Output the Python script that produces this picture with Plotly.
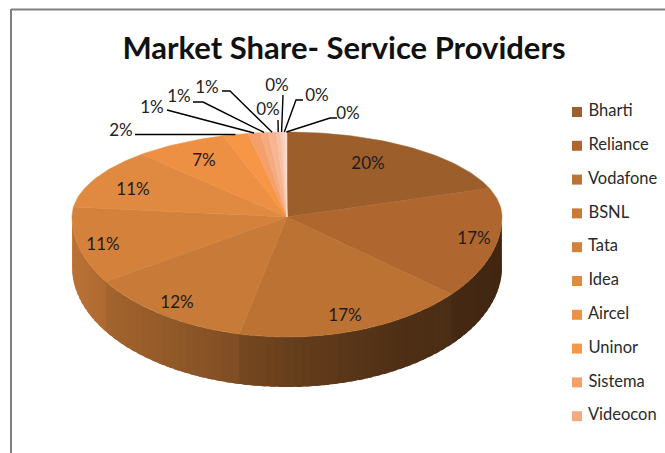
import numpy as np
import plotly.graph_objects as go

# --- data -----------------------------------------------------------------
legend_names = ["Bharti", "Reliance", "Vodafone", "BSNL", "Tata",
                "Idea", "Aircel", "Uninor", "Sistema", "Videocon"]
shares = [19.5, 16.6, 17.4, 12.4, 10.9, 11.3, 7.0, 1.9, 0.9, 0.6, 0.6, 0.3, 0.2, 0.2, 0.1]
slice_colors = ["#9C5E2B", "#AF672F", "#BC7233", "#C87A38", "#D4813C",
                "#E08A41", "#EE9044", "#F79646", "#F3A06A", "#F5AB80",
                "#F6B593", "#F7BFA3", "#F8C9B3", "#F9D3C2", "#FADDD1"]
title_text = "Market Share- Service Providers"

# --- layout geometry ------------------------------------------------------
W, H = 665, 453
CX, CY, RX, RY_BACK, RY_FRONT, DEPTH = 287, 217, 215, 85, 120, 50
FONT = "Lato"
INK = "#1c1c1c"
# inside labels for the first seven slices
inside_pos = [(368, 165), (474, 240), (345, 317), (177, 304), (103, 246), (133, 191), (204, 162)]
# outside labels: text position, elbow position, for the remaining slices
outside_pos = [(121, 132), (152, 109), (179, 98), (207, 89), (268, 111), (277, 87), (317, 97), (348, 115)]
elbows = [(135, 134.5), (172, 111), (203, 102), (230, 91), (278, 120), (283, 95), (296, 100), (330, 118)]
line_ends = [None, (167, 110), (193, 102), (222, 91), None, None, (303, 100), (337, 118)]
legend_x, legend_y0, legend_dy = 577, 112, 33.8


def rim(deg, dy=0.0):
    """Point on the perspective ellipse; 0 deg is at the top, clockwise."""
    t = np.radians(deg)
    s, c = np.sin(t), np.cos(t)
    ry = np.where(c >= 0, RY_BACK, RY_FRONT)
    return CX + RX * s, CY - ry * c + dy


def shade(x):
    return np.interp(x, [72, 100, 233, 300, 400, 502], [.88, .83, .64, .53, .42, .37])


def scaled(hex_color, f):
    r, g, b = (int(hex_color[i:i + 2], 16) for i in (1, 3, 5))
    return f"rgb({r * f:.0f},{g * f:.0f},{b * f:.0f})"


values = np.array(shares, float)
edges = np.concatenate([[0], np.cumsum(values) / values.sum() * 360])
mids = (edges[:-1] + edges[1:]) / 2
fig = go.Figure()

# side wall, front half only; painted right to left, each strip overlapping the next
for i, col in enumerate(slice_colors):
    a0, a1 = max(edges[i], 90), min(edges[i + 1], 270)
    if a1 <= a0:
        continue
    steps = np.linspace(a0, a1, max(2, int((a1 - a0) / 2.5) + 2))
    for s0, s1 in zip(steps[:-1], steps[1:]):
        arc = np.linspace(s0, min(s1 + 1.5, 270), 5)
        xt, yt = rim(arc)
        xb, yb = rim(arc[::-1], DEPTH)
        c = scaled(col, float(shade(rim((s0 + s1) / 2)[0])))
        fig.add_trace(go.Scatter(
            x=np.r_[xt, xb, xt[0]], y=np.r_[yt, yb, yt[0]], mode="lines",
            fill="toself", fillcolor=c, line=dict(width=0),
            hoverinfo="skip", showlegend=False))

# top face
for i, col in enumerate(slice_colors):
    arc = np.linspace(edges[i], edges[i + 1], max(3, int(values[i] * 3)))
    xa, ya = rim(arc)
    fig.add_trace(go.Scatter(
        x=np.r_[CX, xa, CX], y=np.r_[CY, ya, CY], mode="lines",
        fill="toself", fillcolor=col, line=dict(color=col, width=0.5),
        name=legend_names[i] if i < len(legend_names) else f"Other {i - 9}",
        text=f"{values[i]:.0f}%", hoverinfo="name+text", showlegend=False))

# inside labels
n_in = len(inside_pos)
fig.add_trace(go.Scatter(
    x=[p[0] for p in inside_pos], y=[p[1] for p in inside_pos], mode="text",
    text=[f"{v:.0f}%" for v in values[:n_in]],
    textfont=dict(family=FONT, size=17, color=INK), hoverinfo="skip", showlegend=False))

# leader lines and outside labels
for j, i in enumerate(range(n_in, len(values))):
    x0, y0 = rim(mids[i])
    pts = [(float(x0), float(y0)), elbows[j]]
    if line_ends[j]:
        pts.append(line_ends[j])
    fig.add_trace(go.Scatter(
        x=[p[0] for p in pts], y=[p[1] for p in pts], mode="lines",
        line=dict(color="#000000", width=1.4), hoverinfo="skip", showlegend=False))
fig.add_trace(go.Scatter(
    x=[p[0] for p in outside_pos], y=[p[1] for p in outside_pos], mode="text",
    text=[f"{v:.0f}%" for v in values[n_in:]],
    textfont=dict(family=FONT, size=17, color="#222222"), hoverinfo="skip", showlegend=False))

# legend (first ten categories, as in the original)
fig.add_trace(go.Scatter(
    x=[legend_x] * len(legend_names),
    y=[legend_y0 + k * legend_dy for k in range(len(legend_names))],
    mode="markers+text", text=[" " + n for n in legend_names], textposition="middle right",
    marker=dict(symbol="square", size=10, color=slice_colors[:len(legend_names)]),
    textfont=dict(family=FONT, size=16.5, color="#2a2a2a"), hoverinfo="skip", showlegend=False,
    cliponaxis=False))

fig.update_layout(
    width=W, height=H, margin=dict(l=0, r=0, t=0, b=0),
    paper_bgcolor="white", plot_bgcolor="white", showlegend=False,
    title=dict(text=f"<b>{title_text}</b>", x=344 / W, y=1 - 48 / H, xanchor="center", yanchor="middle",
               font=dict(family=FONT, size=31, color="#111111")),
    xaxis=dict(range=[0, W], visible=False, fixedrange=True),
    yaxis=dict(range=[H, 0], visible=False, fixedrange=True),
    shapes=[
        dict(type="line", xref="x", yref="y", x0=11, x1=W, y0=9.5, y1=9.5, line=dict(color="#808080", width=2)),
        dict(type="line", xref="x", yref="y", x0=11, x1=11, y0=9, y1=H, line=dict(color="#808080", width=2)),
    ],
)
fig.write_html("out.html", config=dict(displayModeBar=False),
               post_script="document.body.style.margin='0';document.documentElement.style.overflow='hidden';")
